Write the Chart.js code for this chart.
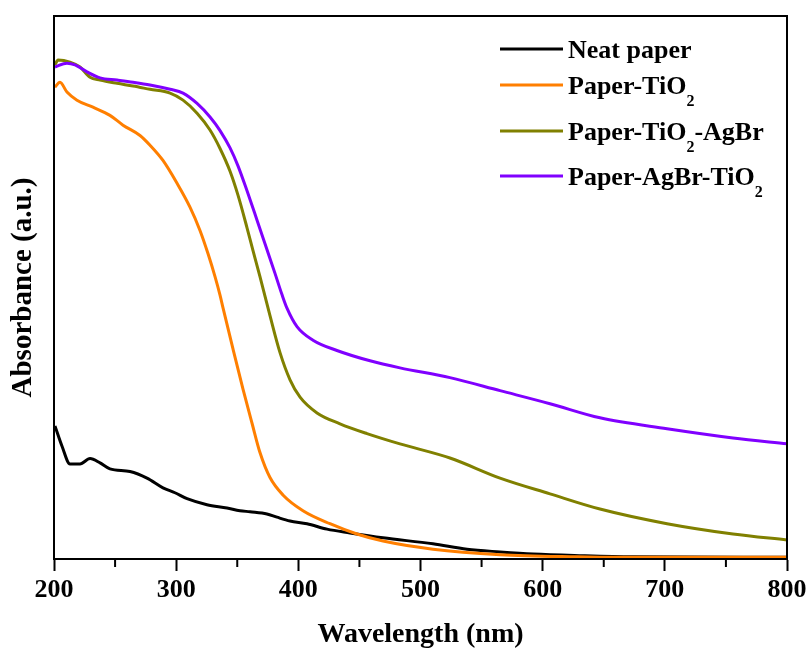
<!DOCTYPE html>
<html>
<head>
<meta charset="utf-8">
<script src="https://cdn.jsdelivr.net/npm/chart.js@4"></script>
<style>
  html, body { margin: 0; padding: 0; background: #fff; }
  #wrap { width: 811px; height: 649px; }
</style>
</head>
<body>
<div id="wrap"><canvas id="myChart" width="811" height="649"></canvas></div>
<script>
// UV-vis absorbance spectra (arbitrary units, 0..1 of the plot height)
const seriesLabels = ['Neat paper', 'Paper-TiO_2', 'Paper-TiO_2-AgBr', 'Paper-AgBr-TiO_2'];
const seriesColors = ['#000000', '#ff7f00', '#808000', '#8000ff'];

const neatWl  = [200.8, 206.5, 213.1, 221.3, 229.5, 237.7, 245.8, 262.2, 276.1, 289.2, 299.0, 308.9, 325.2, 341.6, 352.2, 360.4, 374.3, 382.5, 393.2, 407.1, 423.5, 442.3, 469.3, 510.2, 538.1, 565.1, 592.1, 633.0, 673.9, 800];
const neatAbs = [0.245, 0.208, 0.175, 0.175, 0.185, 0.177, 0.166, 0.161, 0.149, 0.131, 0.122, 0.111, 0.100, 0.094, 0.089, 0.087, 0.083, 0.077, 0.070, 0.065, 0.055, 0.048, 0.039, 0.028, 0.018, 0.013, 0.009, 0.006, 0.004, 0.003];

const tio2Wl  = [200.8, 204.9, 210.6, 218.8, 231.9, 245.8, 256.5, 270.4, 278.6, 289.2, 300.7, 311.3, 319.5, 326.1, 331.8, 335.9, 338.3, 346.5, 354.7, 362.1, 368.6, 376.8, 387.4, 403.8, 425.9, 448.0, 469.3, 510.2, 565.1, 628.1, 660.8, 800];
const tio2Abs = [0.869, 0.878, 0.860, 0.845, 0.832, 0.817, 0.799, 0.780, 0.762, 0.734, 0.692, 0.648, 0.605, 0.562, 0.520, 0.486, 0.463, 0.387, 0.313, 0.250, 0.196, 0.150, 0.118, 0.089, 0.065, 0.046, 0.033, 0.018, 0.008, 0.004, 0.003, 0.003];

const tio2AgbrWl  = [200.8, 203.3, 213.1, 221.3, 229.5, 237.7, 251.6, 264.7, 278.6, 295.0, 305.6, 317.1, 327.7, 335.9, 344.1, 350.6, 358.0, 362.9, 368.6, 372.7, 376.8, 385.0, 393.2, 401.4, 415.3, 434.1, 456.2, 483.2, 524.1, 565.1, 606.0, 646.9, 701.8, 755.8, 800];
const tio2AgbrAbs = [0.910, 0.919, 0.915, 0.906, 0.887, 0.882, 0.876, 0.871, 0.865, 0.858, 0.845, 0.821, 0.790, 0.756, 0.714, 0.670, 0.610, 0.568, 0.520, 0.484, 0.448, 0.380, 0.330, 0.298, 0.269, 0.249, 0.231, 0.212, 0.186, 0.149, 0.120, 0.092, 0.065, 0.046, 0.035];

const agbrTio2Wl  = [200.8, 210.6, 217.2, 227.0, 237.7, 251.6, 264.7, 278.6, 295.0, 305.6, 317.1, 327.7, 335.9, 344.1, 350.6, 358.0, 366.2, 374.3, 380.9, 386.6, 390.7, 398.9, 412.0, 431.6, 458.7, 483.2, 524.1, 565.1, 606.0, 646.9, 701.8, 755.8, 800];
const agbrTio2Abs = [0.906, 0.913, 0.910, 0.897, 0.886, 0.882, 0.878, 0.873, 0.865, 0.858, 0.839, 0.814, 0.789, 0.757, 0.724, 0.678, 0.624, 0.570, 0.526, 0.487, 0.462, 0.428, 0.403, 0.384, 0.365, 0.352, 0.334, 0.310, 0.286, 0.260, 0.240, 0.223, 0.212];

const xTicks = [200, 300, 400, 500, 600, 700, 800];

const serif = "'Liberation Serif', 'Times New Roman', serif";

function pts(wl, abs) {
  return wl.map((w, i) => ({x: w, y: abs[i]}));
}
const allWl  = [neatWl, tio2Wl, tio2AgbrWl, agbrTio2Wl];
const allAbs = [neatAbs, tio2Abs, tio2AgbrAbs, agbrTio2Abs];

// frame, minor ticks and a legend that knows about subscripts
const framePlugin = {
  id: 'frame',
  afterDraw(chart) {
    const {ctx, chartArea: a, scales} = chart;
    ctx.save();
    ctx.strokeStyle = '#000';
    ctx.lineWidth = 2;
    ctx.strokeRect(a.left, a.top, a.right - a.left, a.bottom - a.top);

    // minor ticks every 50 nm
    for (let v = 250; v < 800; v += 100) {
      const x = scales.x.getPixelForValue(v);
      ctx.beginPath();
      ctx.moveTo(x, a.bottom);
      ctx.lineTo(x, a.bottom + 8);
      ctx.stroke();
    }

    // legend
    const rows = [49, 85, 131, 176];
    const lineX0 = 500, lineX1 = 563, textX = 568;
    ctx.textBaseline = 'alphabetic';
    ctx.textAlign = 'left';
    ctx.fillStyle = '#000';
    seriesLabels.forEach((lab, i) => {
      const y = rows[i];
      ctx.strokeStyle = seriesColors[i];
      ctx.lineWidth = 3;
      ctx.beginPath();
      ctx.moveTo(lineX0, y);
      ctx.lineTo(lineX1, y);
      ctx.stroke();
      let x = textX;
      const base = y + 9;
      lab.split(/(_\d)/).forEach(part => {
        if (!part) return;
        if (part[0] === '_') {
          ctx.font = 'bold 16px ' + serif;
          ctx.fillText(part.slice(1), x, base + 12);
          x += ctx.measureText(part.slice(1)).width;
        } else {
          ctx.font = 'bold 26px ' + serif;
          ctx.fillText(part, x, base);
          x += ctx.measureText(part).width;
        }
      });
    });
    ctx.restore();
  }
};

const ctx = document.getElementById('myChart');
const chart = new Chart(ctx, {
  type: 'line',
  data: {
    datasets: seriesLabels.map((lab, i) => ({
      label: lab,
      data: pts(allWl[i], allAbs[i]),
      borderColor: seriesColors[i],
      backgroundColor: seriesColors[i],
      borderWidth: 3,
      pointRadius: 0,
      cubicInterpolationMode: 'monotone'
    })).reverse()
  },
  options: {
    responsive: false,
    animation: false,
    events: [],
    layout: { padding: { top: 16, right: 24, left: 0, bottom: 0 } },
    plugins: {
      legend: { display: false },
      tooltip: { enabled: false }
    },
    scales: {
      x: {
        type: 'linear',
        min: 200,
        max: 800,
        afterFit: s => { s.height = 90; },
        afterBuildTicks: s => { s.ticks = xTicks.map(v => ({value: v})); },
        border: { display: true, color: '#000', width: 2 },
        grid: {
          drawOnChartArea: false,
          drawTicks: true,
          tickLength: 12,
          tickColor: '#000',
          tickWidth: 2
        },
        ticks: {
          autoSkip: false,
          maxRotation: 0,
          padding: 4,
          color: '#000',
          font: { family: serif, size: 26, weight: 'bold' }
        },
        title: {
          display: true,
          text: 'Wavelength (nm)',
          color: '#000',
          padding: { top: 0, bottom: 0 },
          font: { family: serif, size: 28, weight: 'bold', lineHeight: 1 }
        }
      },
      y: {
        min: 0,
        max: 1,
        afterFit: s => { s.width = 54; },
        border: { display: true, color: '#000', width: 2 },
        grid: { display: false },
        ticks: { display: false },
        title: {
          display: true,
          text: 'Absorbance (a.u.)',
          color: '#000',
          padding: { top: 6, bottom: 0 },
          font: { family: serif, size: 29, weight: 'bold' }
        }
      }
    }
  },
  plugins: [framePlugin]
});
</script>
</body>
</html>
